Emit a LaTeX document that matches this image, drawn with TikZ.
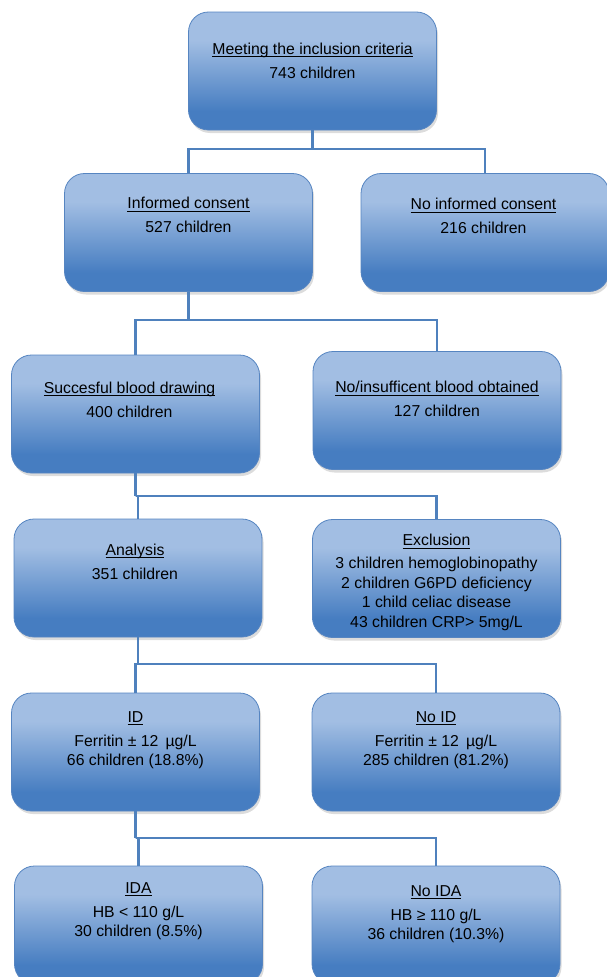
\documentclass[tikz,border=0pt]{standalone}
\usepackage{fontspec}
\setmainfont{Liberation Sans}
\usepackage{xcolor}
\usetikzlibrary{positioning,shadows}
\definecolor{boxtop}{RGB}{162,190,227}
\definecolor{boxbot}{RGB}{70,125,193}
\definecolor{boxline}{RGB}{86,133,193}
\definecolor{linkblue}{RGB}{79,129,189}
\pgfdeclareverticalshading{boxfade}{100bp}{color(0bp)=(boxbot); color(33bp)=(boxbot); color(63bp)=(boxtop); color(100bp)=(boxtop)}
\newcommand{\ttl}[1]{\setbox0\hbox{#1}\rlap{\rule[-2.4pt]{\wd0}{0.8pt}}\box0}
\tikzset{
  flowbox/.style={draw=boxline,line width=0.8pt,shade,shading=boxfade,rounded corners=20pt,minimum width=248pt,minimum height=118pt,inner sep=0pt,
    drop shadow={opacity=0.28,shadow xshift=1.5pt,shadow yshift=-3pt}},
  boxtext/.style={align=center,inner sep=0pt,font=\fontsize{15.8}{19.5}\selectfont},
  link/.style={draw=linkblue,line width=2.6pt},
}

\begin{document}
\begin{tikzpicture}[x=1pt,y=-1pt]
  \useasboundingbox (0,0) rectangle (606,977);
  % boxes
  \node[flowbox] (top)   at (312.5,71)  {};
  \node[flowbox] (ic)    at (188.5,232.5) {};
  \node[flowbox] (nic)   at (485,232.5) {};
  \node[flowbox] (sbd)   at (135.5,414) {};
  \node[flowbox] (nib)   at (437,410.5) {};
  \node[flowbox] (ana)   at (138,578)   {};
  \node[flowbox] (exc)   at (436.5,578.5) {};
  \node[flowbox] (id)    at (135.5,752) {};
  \node[flowbox] (noid)  at (436,752)   {};
  \node[flowbox] (ida)   at (138.5,925) {};
  \node[flowbox] (noida) at (436,925)   {};
  % texts
  \node[boxtext,below=29pt of top.north] (toptxt) {\strut\ttl{Meeting the inclusion criteria}\\[4.5pt]743 children};
  \node[boxtext,below=22pt of ic.north] (ictxt) {\strut\ttl{Informed consent}\\[4.5pt]527 children};
  \node[boxtext,below=23pt of nic.north,xshift=-1.5pt] (nictxt) {\strut\ttl{No informed consent}\\[4.5pt]216 children};
  \node[boxtext,below=25pt of sbd.north,xshift=-6pt] (sbdtxt) {\strut\ttl{Succesful blood drawing}\\[4.5pt]400 children};
  \node[boxtext,below=28pt of nib.north] (nibtxt) {\strut\ttl{No/insufficent blood obtained}\\[4.5pt]127 children};
  \node[boxtext,below=23pt of ana.north,xshift=-3pt] (anatxt) {\strut\ttl{Analysis}\\[4.5pt]351 children};
  \node[boxtext,below=13pt of exc.north] (exctxt) {\strut\ttl{Exclusion}\\[3.5pt]3 children hemoglobinopathy\\2 children G6PD deficiency\\1 child celiac disease\\43 children CRP> 5mg/L};
  \node[boxtext,below=16pt of id.north] (idtxt) {\strut\ttl{ID}\\[4.5pt]Ferritin ± 12\, µg/L\\66 children (18.8\%)};
  \node[boxtext,below=16pt of noid.north] (noidtxt) {\strut\ttl{No ID}\\[4.5pt]Ferritin ± 12\, µg/L\\285 children (81.2\%)};
  \node[boxtext,below=14pt of ida.north] (idatxt) {\strut\ttl{IDA}\\[4.5pt]HB < 110 g/L\\30 children (8.5\%)};
  \node[boxtext,below=17pt of noida.north] (noidatxt) {\strut\ttl{No IDA}\\[4.5pt]HB ≥ 110 g/L\\36 children (10.3\%)};
  % junctions
  \coordinate (j1) at (312.5,149);
  \coordinate (j2) at (188.5,320);
  \coordinate (j3) at (135.5,496);
  \coordinate (j4) at (138,664);
  \coordinate (j5) at (135.5,838);
  % connectors
  \draw[link] (top.south) -- (j1);
  \draw[link] (ic.north) |- (j1) -| (nic.north);
  \draw[link] (ic.south) -- (j2);
  \draw[link] (sbd.north) |- (j2) -| (nib.north);
  \draw[link] (sbd.south) -- (j3);
  \draw[link] (ana.north) |- (j3) -| (exc.north);
  \draw[link] (ana.south) -- (j4);
  \draw[link] (id.north) |- (j4) -| (noid.north);
  \draw[link] (id.south) -- (j5);
  \draw[link] (ida.north) |- (j5) -| (noida.north);
\end{tikzpicture}
\end{document}
